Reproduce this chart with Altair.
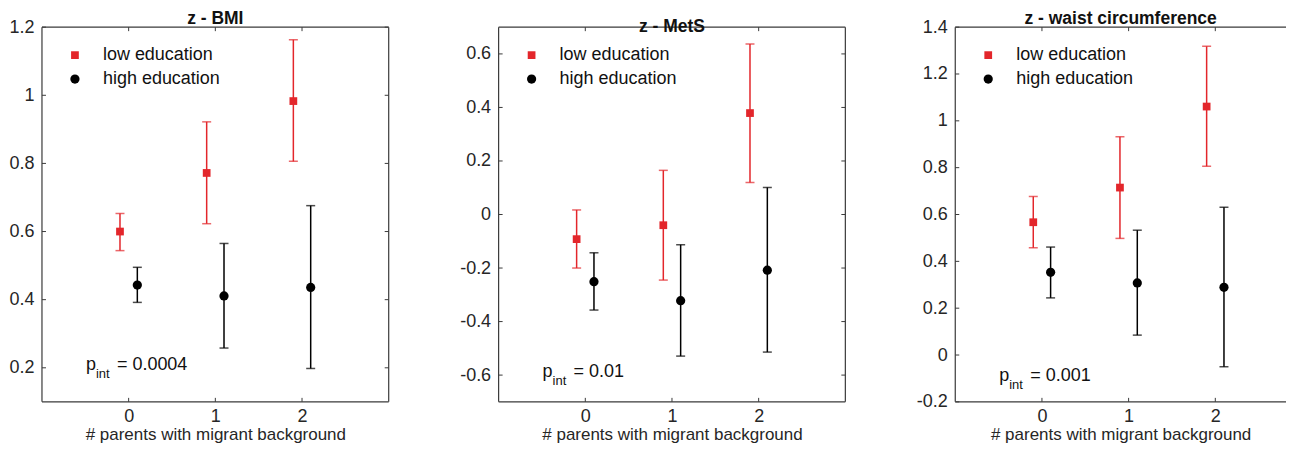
import altair as alt
import pandas as pd

# ---------------- data ----------------
parents = [0, 1, 2]
groups = ["low education", "high education"]

bmi_low_mean = [0.600, 0.772, 0.983]
bmi_low_lo = [0.544, 0.623, 0.806]
bmi_low_hi = [0.653, 0.922, 1.163]
bmi_high_mean = [0.443, 0.411, 0.436]
bmi_high_lo = [0.392, 0.258, 0.198]
bmi_high_hi = [0.495, 0.565, 0.676]

mets_low_mean = [-0.092, -0.040, 0.379]
mets_low_lo = [-0.200, -0.245, 0.120]
mets_low_hi = [0.017, 0.165, 0.637]
mets_high_mean = [-0.251, -0.322, -0.208]
mets_high_lo = [-0.357, -0.529, -0.514]
mets_high_hi = [-0.143, -0.113, 0.101]

waist_low_mean = [0.567, 0.715, 1.061]
waist_low_lo = [0.458, 0.498, 0.806]
waist_low_hi = [0.677, 0.932, 1.318]
waist_high_mean = [0.353, 0.308, 0.289]
waist_high_lo = [0.244, 0.085, -0.050]
waist_high_hi = [0.461, 0.533, 0.631]

titles = ["z - BMI", "z - MetS", "z - waist circumference"]
p_values = ["= 0.0004", "= 0.01", "= 0.001"]
x_ticks = [0, 1, 2]
bmi_yticks = [0.2, 0.4, 0.6, 0.8, 1, 1.2]
mets_yticks = [-0.6, -0.4, -0.2, 0, 0.2, 0.4, 0.6]
waist_yticks = [-0.2, 0, 0.2, 0.4, 0.6, 0.8, 1, 1.2, 1.4]

FONT = "Liberation Sans"
RED = "#e3262b"
BLACK = "#000000"
FRAME = "#3a3a3a"
FS = 18


def make_df(lm, llo, lhi, hm, hlo, hhi):
    rows = []
    for i, p in enumerate(parents):
        rows.append({"parents": p, "group": groups[0], "mean": lm[i], "lo": llo[i], "hi": lhi[i]})
        rows.append({"parents": p, "group": groups[1], "mean": hm[i], "lo": hlo[i], "hi": hhi[i]})
    return pd.DataFrame(rows)


def panel(title, df, ydom, yticks, pval, width, xdom, ann_y, open_right=False):
    H = 375
    xscale = alt.Scale(domain=xdom, nice=False, zero=False)
    yscale = alt.Scale(domain=ydom, nice=False, zero=False)
    xaxis = alt.Axis(values=x_ticks, title="# parents with migrant background", grid=False,
                     domain=False, ticks=False, tickSize=0, labelPadding=6,
                     labelFontSize=FS, labelFont=FONT, labelColor="#262626",
                     titleFontSize=17, titleFont=FONT, titleFontWeight="normal",
                     titleColor="#262626", titlePadding=1, labelExpr="'' + datum.value")
    yaxis = alt.Axis(values=yticks, title=None, grid=False, domain=False, ticks=False,
                     tickSize=0, labelPadding=8, labelFontSize=FS, labelFont=FONT,
                     labelColor="#262626", labelExpr="'' + datum.value")
    color = alt.Color("group:N", scale=alt.Scale(domain=groups, range=[RED, BLACK]),
                      legend=alt.Legend(title=None, orient="none", legendX=24, legendY=19,
                                        padding=0, labelFontSize=FS, labelFont=FONT,
                                        labelColor="#111", labelOffset=19, rowPadding=6,
                                        symbolSize=60, symbolStrokeWidth=0, symbolOpacity=1))
    shape = alt.Shape("group:N", scale=alt.Scale(domain=groups, range=["square", "circle"]))

    base = alt.Chart(df).transform_calculate(
        xpos="datum.parents + (datum.group == 'low education' ? -0.1 : 0.1)")
    X = alt.X("xpos:Q", scale=xscale, axis=xaxis)

    bars = base.mark_rule(strokeWidth=1.5).encode(
        x=X, y=alt.Y("lo:Q", scale=yscale, axis=yaxis), y2="hi:Q", color=color)
    cap_lo = base.mark_tick(orient="horizontal", size=9, thickness=1.5).encode(
        x=X, y=alt.Y("lo:Q", scale=yscale, axis=yaxis), color=color)
    cap_hi = base.mark_tick(orient="horizontal", size=9, thickness=1.5).encode(
        x=X, y=alt.Y("hi:Q", scale=yscale, axis=yaxis), color=color)
    pts = base.mark_point(filled=True, opacity=1, strokeWidth=0).encode(
        x=X, y=alt.Y("mean:Q", scale=yscale, axis=yaxis), color=color, shape=shape,
        size=alt.Size("group:N", scale=alt.Scale(domain=groups, range=[60, 85]), legend=None))

    ytk = alt.Chart(pd.DataFrame({"t": yticks}))
    xtk = alt.Chart(pd.DataFrame({"t": x_ticks}))
    Yt = alt.Y("t:Q", scale=yscale, axis=yaxis)
    Xt = alt.X("t:Q", scale=xscale, axis=xaxis)
    tk = dict(color=FRAME, strokeWidth=1)
    layers = [bars, cap_lo, cap_hi, pts]
    layers.append(ytk.mark_rule(**tk).encode(y=Yt, x=alt.value(0), x2=alt.value(4)))
    if not open_right:
        layers.append(ytk.mark_rule(**tk).encode(y=Yt, x=alt.value(width - 4), x2=alt.value(width)))
    layers.append(xtk.mark_rule(**tk).encode(x=Xt, y=alt.value(H - 4), y2=alt.value(H)))
    layers.append(xtk.mark_rule(**tk).encode(x=Xt, y=alt.value(0), y2=alt.value(4)))

    # axes box (the right side of the last panel runs past the picture's edge)
    one = alt.Chart(pd.DataFrame({"a": [0]}))
    fr = dict(color=FRAME, strokeWidth=1.2)
    layers.append(one.mark_rule(**fr).encode(x=alt.value(0), x2=alt.value(width), y=alt.value(0)))
    layers.append(one.mark_rule(**fr).encode(x=alt.value(0), x2=alt.value(width), y=alt.value(H)))
    layers.append(one.mark_rule(**fr).encode(x=alt.value(0), y=alt.value(0), y2=alt.value(H)))
    if not open_right:
        layers.append(one.mark_rule(**fr).encode(x=alt.value(width), y=alt.value(0), y2=alt.value(H)))

    tx = dict(font=FONT, color="#111", align="left", baseline="alphabetic")
    layers.append(one.mark_text(fontSize=18, **tx).encode(x=alt.value(44), y=alt.value(ann_y), text=alt.value("p")))
    layers.append(one.mark_text(fontSize=13, **tx).encode(x=alt.value(54), y=alt.value(ann_y + 8), text=alt.value("int")))
    layers.append(one.mark_text(fontSize=18, **tx).encode(x=alt.value(75), y=alt.value(ann_y), text=alt.value(pval)))

    return alt.layer(*layers).properties(
        width=width, height=H,
        title=alt.TitleParams(title, fontSize=17.5, font=FONT, fontWeight="bold",
                              color="#111", anchor="middle", offset=-9, frame="group"))


c1 = panel(titles[0], make_df(bmi_low_mean, bmi_low_lo, bmi_low_hi, bmi_high_mean, bmi_high_lo, bmi_high_hi),
           [0.1, 1.2], bmi_yticks, p_values[0], 347, [-1, 3], 343)
c2 = panel(titles[1], make_df(mets_low_mean, mets_low_lo, mets_low_hi, mets_high_mean, mets_high_lo, mets_high_hi),
           [-0.7, 0.7], mets_yticks, p_values[1], 347, [-1, 3], 350)
c3 = panel(titles[2], make_df(waist_low_mean, waist_low_lo, waist_low_hi, waist_high_mean, waist_high_lo, waist_high_hi),
           [-0.2, 1.4], waist_yticks, p_values[2], 331, [-1, 2.8156], 354, open_right=True)

chart = alt.hconcat(c1, c2, c3, spacing=110, bounds="flush").resolve_scale(
    x="independent", y="independent", color="independent", shape="independent", size="independent"
).properties(padding={"left": 0, "top": 1, "right": 0, "bottom": 0}).configure_view(
    stroke="transparent")

chart.save("out.html", embed_options={"renderer": "svg", "actions": False})
